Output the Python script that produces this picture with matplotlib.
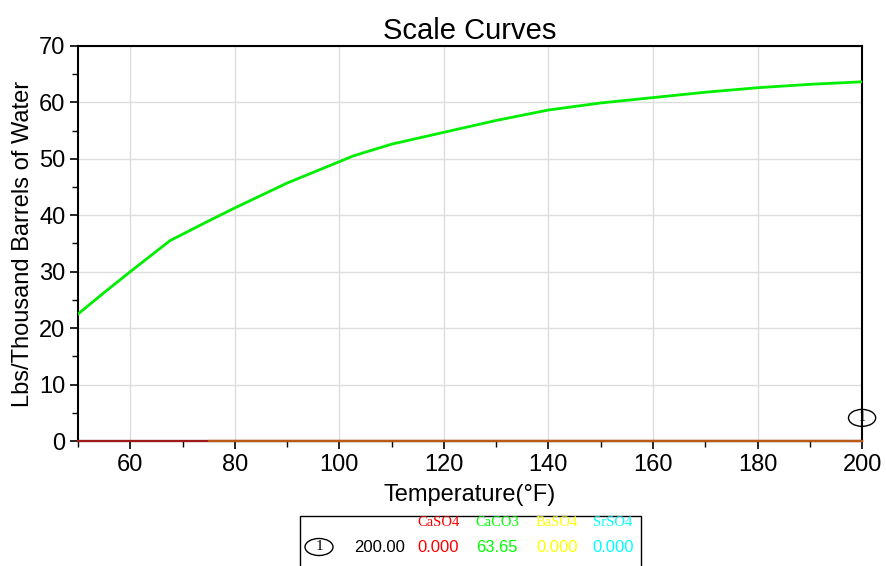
import numpy as np
import matplotlib.pyplot as plt
from matplotlib.patches import Ellipse, Rectangle
from matplotlib.ticker import MultipleLocator

plt.rcParams['font.family'] = ['Liberation Sans', 'DejaVu Sans']

# data
temp = [50, 55, 60, 67.6, 75, 80, 90, 100, 102.6, 110, 120, 130, 140, 150, 160, 170, 180, 190, 200]
caco3 = [22.5, 26.3, 30.0, 35.5, 39.0, 41.3, 45.7, 49.5, 50.5, 52.6, 54.7, 56.8, 58.65, 59.9,
         60.85, 61.8, 62.6, 63.2, 63.65]
temp0 = [50, 200]
caso4 = [0, 0]
temp_ba = [75, 200]
baso4 = [0, 0]

names = ['CaSO4', 'CaCO3', 'BaSO4', 'SrSO4']
colors = ['#ff0000', '#00ff00', '#ffff00', '#00ffff']
last_vals = ['0.000', '63.65', '0.000', '0.000']

fig = plt.figure(figsize=(8.86, 5.66), dpi=100)
ax = fig.add_axes([0.088, 0.2208, 0.885, 0.698])

ax.plot(temp0, caso4, color='#a01818', lw=1.6, zorder=3, clip_on=False)
ax.plot(temp_ba, baso4, color='#b85a18', lw=1.6, zorder=3, clip_on=False)
ax.plot(temp, caco3, color='#00ee00', lw=2, zorder=3)

ax.set_xlim(50, 200)
ax.set_ylim(0, 70)
ax.xaxis.set_major_locator(MultipleLocator(20))
ax.xaxis.set_minor_locator(MultipleLocator(10))
ax.yaxis.set_major_locator(MultipleLocator(10))
ax.yaxis.set_minor_locator(MultipleLocator(5))
ax.set_xticks([60, 80, 100, 120, 140, 160, 180, 200])
ax.grid(True, which='major', color='#dddddd', lw=1)
ax.tick_params(which='major', length=6, width=1.2, labelsize=17, pad=3)
ax.tick_params(which='minor', length=4, width=1)
for s in ax.spines.values():
    s.set_linewidth(1.5)

ax.set_title('Scale Curves', fontsize=21, pad=5)
ax.set_xlabel('Temperature(°F)', fontsize=17, labelpad=6)
ax.set_ylabel('Lbs/Thousand Barrels of Water', fontsize=17, labelpad=4)

# marker of curve 1 at last temperature
ax.add_patch(Ellipse((200, 4.1), 5.2, 3.0, fill=False, lw=1, clip_on=False, zorder=5))
ax.text(200, 4.1, '1', fontsize=10, family='Liberation Serif', ha='center', va='center', zorder=6)

# value table under the chart
fig.patches.append(Rectangle((300 / 886, -0.01), 341 / 886, (566 - 516) / 566 + 0.01,
                             transform=fig.transFigure, fill=False, lw=1, color='black'))
hx = [438, 497, 557, 613]
for i in range(4):
    fig.text(hx[i] / 886, 1 - 523 / 566, names[i], color=colors[i], fontsize=10.5,
             family='Liberation Serif', ha='center', va='center')
    fig.text(hx[i] / 886, 1 - 547 / 566, last_vals[i], color=colors[i], fontsize=12,
             ha='center', va='center')
fig.text(380 / 886, 1 - 547 / 566, '200.00', color='black', fontsize=12, ha='center', va='center')
fig.patches.append(Ellipse((319 / 886, 1 - 547 / 566), 28 / 886, 17 / 566, transform=fig.transFigure,
                           fill=False, lw=1, color='black'))
fig.text(319 / 886, 1 - 547 / 566, '1', fontsize=11, family='Liberation Serif', ha='center', va='center')

plt.savefig('out.png', dpi=100)
plt.close()
